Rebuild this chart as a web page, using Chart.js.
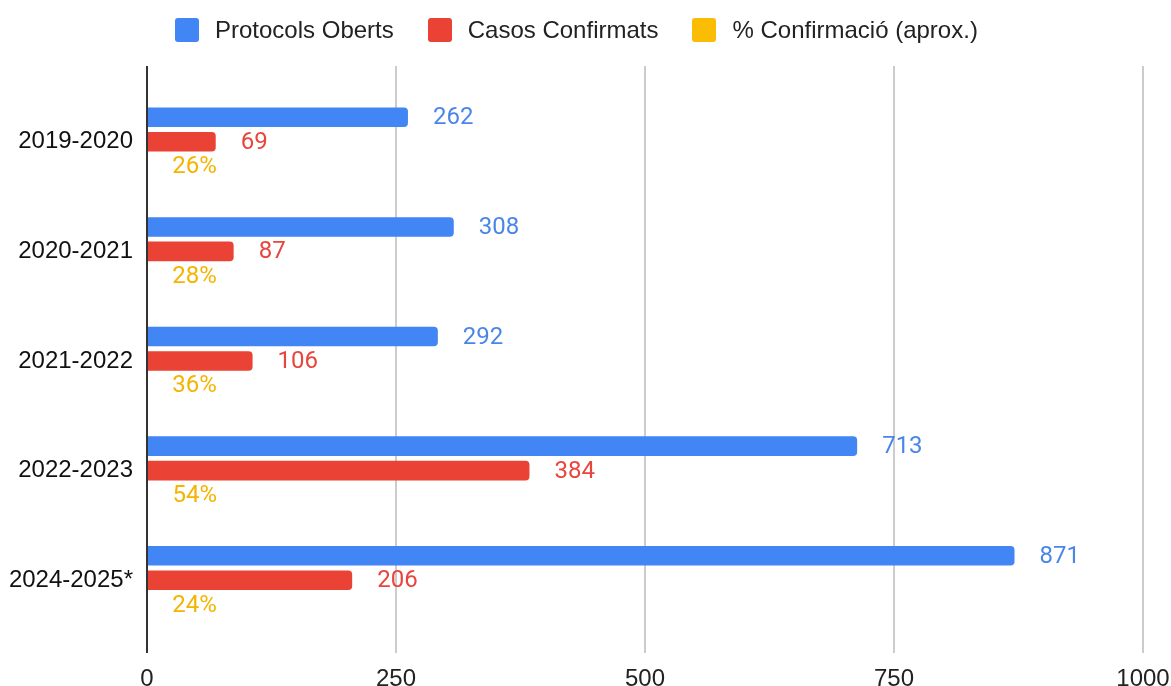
<!DOCTYPE html>
<html>
<head>
<meta charset="utf-8">
<script src="https://cdn.jsdelivr.net/npm/chart.js@4"></script>
<style>
    body { margin: 0; background: #fff; }
    .wrap { position: relative; width: 1171px; height: 686px; }
    #legend {
        position: absolute; top: 18px; left: 175px;
        display: flex; align-items: center;
        font-family: "Liberation Sans", Arial, sans-serif; font-size: 24px; color: #222;
        line-height: 24px;
    }
    .leg-item { display: flex; align-items: center; margin-right: 34px; }
    .leg-box { width: 24px; height: 24px; border-radius: 3px; margin-right: 16px; }
</style>
</head>
<body>
<div class="wrap">
    <div id="legend"></div>
    <canvas id="chart" width="1171" height="686"></canvas>
</div>
<script>
const seasons = ['2019-2020', '2020-2021', '2021-2022', '2022-2023', '2024-2025*'];
const protocolsOpened = [262, 308, 292, 713, 871];
const confirmedCases = [69, 87, 106, 384, 206];
const confirmationRate = [0.26, 0.28, 0.36, 0.54, 0.24];
const xTicks = [0, 250, 500, 750, 1000];

const seriesNames = ['Protocols Oberts', 'Casos Confirmats', '% Confirmació (aprox.)'];
const seriesColors = ['#4285F4', '#EA4335', '#FBBC04'];
const labelColors = ['#4A86E8', '#E8453C', '#F4B400'];

// legend (html)
const legendEl = document.getElementById('legend');
seriesNames.forEach((name, i) => {
    const item = document.createElement('div');
    item.className = 'leg-item';
    item.innerHTML = `<span class="leg-box" style="background:${seriesColors[i]}"></span><span>${name}</span>`;
    legendEl.appendChild(item);
});

// grid lines + left axis line, extended past the plot area like the original
const gridPlugin = {
    id: 'extGrid',
    beforeDatasetsDraw(chart) {
        const { ctx, chartArea, scales } = chart;
        ctx.save();
        ctx.strokeStyle = '#cccccc';
        ctx.lineWidth = 2;
        scales.x.ticks.forEach(t => {
            if (t.value === 0) return;
            const x = Math.round(scales.x.getPixelForValue(t.value));
            ctx.beginPath();
            ctx.moveTo(x, chartArea.top - 21);
            ctx.lineTo(x, chartArea.bottom + 18);
            ctx.stroke();
        });
        ctx.restore();
    },
    afterDatasetsDraw(chart) {
        const { ctx, chartArea, scales } = chart;
        const x0 = scales.x.getPixelForValue(0);
        ctx.save();
        ctx.strokeStyle = '#333333';
        ctx.lineWidth = 2;
        ctx.beginPath();
        ctx.moveTo(x0, chartArea.top - 21);
        ctx.lineTo(x0, chartArea.bottom + 18);
        ctx.stroke();
        ctx.restore();
    }
};

// value labels to the right of each bar
const valueLabels = {
    id: 'valueLabels',
    afterDatasetsDraw(chart) {
        const { ctx } = chart;
        ctx.save();
        ctx.font = '24px Roboto, "Liberation Sans", sans-serif';
        ctx.textAlign = 'left';
        ctx.textBaseline = 'middle';
        chart.data.datasets.forEach((ds, di) => {
            const meta = chart.getDatasetMeta(di);
            ctx.fillStyle = labelColors[di];
            meta.data.forEach((bar, i) => {
                const v = ds.data[i];
                const txt = di === 2 ? Math.round(v * 100) + '%' : String(v);
                ctx.fillText(txt, bar.x + 25, bar.y + 1);
            });
        });
        ctx.restore();
    }
};

new Chart(document.getElementById('chart'), {
    type: 'bar',
    data: {
        labels: seasons,
        datasets: [
            { label: seriesNames[0], data: protocolsOpened, backgroundColor: seriesColors[0] },
            { label: seriesNames[1], data: confirmedCases, backgroundColor: seriesColors[1] },
            { label: seriesNames[2], data: confirmationRate, backgroundColor: seriesColors[2] }
        ]
    },
    options: {
        indexAxis: 'y',
        responsive: false,
        animation: false,
        datasets: {
            bar: { categoryPercentage: 0.67, barPercentage: 0.8, borderRadius: 4 }
        },
        layout: { padding: { top: 87, right: 0, bottom: 0, left: 0 } },
        scales: {
            x: {
                min: 0,
                max: 1000,
                afterBuildTicks: s => { s.ticks = xTicks.map(v => ({ value: v })); },
                afterFit: s => { s.height = 51; s.paddingLeft = 0; s.paddingRight = 28; },
                grid: { display: false, drawTicks: false },
                border: { display: false },
                ticks: {
                    padding: 30,
                    color: '#222',
                    callback: v => String(v),
                    font: { family: '"Liberation Sans", Arial, sans-serif', size: 24 }
                }
            },
            y: {
                afterFit: s => { s.width = 147; },
                grid: { display: false, drawTicks: false },
                border: { display: false },
                ticks: {
                    padding: 14,
                    color: '#111',
                    font: { family: '"Liberation Sans", Arial, sans-serif', size: 24 }
                }
            }
        },
        plugins: {
            legend: { display: false },
            tooltip: { enabled: false }
        }
    },
    plugins: [gridPlugin, valueLabels]
});
</script>
</body>
</html>
